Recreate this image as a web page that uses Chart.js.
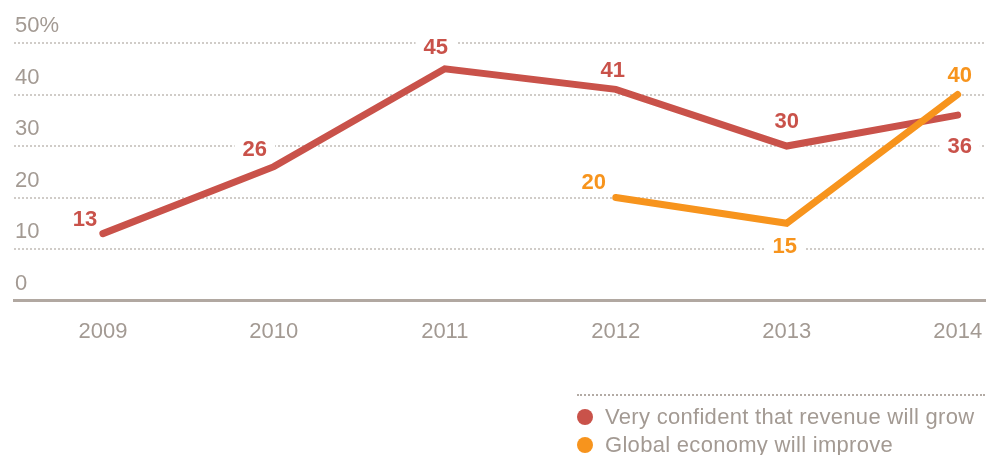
<!DOCTYPE html>
<html>
<head>
<meta charset="utf-8">
<script src="https://cdn.jsdelivr.net/npm/chart.js@4/dist/chart.umd.min.js"></script>
<style>
  html, body { margin: 0; padding: 0; background: #ffffff; }
  #wrap { position: relative; width: 986px; height: 455px; overflow: hidden; }
  #chart { position: absolute; left: 0; top: 0; }
  #legend {
    position: absolute; left: 577px; top: 394px; width: 408px;
    border-top: 2px dotted #b3aba5; padding-top: 7px;
    font-family: "Liberation Sans", Arial, Helvetica, sans-serif;
    font-size: 22px; line-height: 28px; color: #a39a93; letter-spacing: 0.3px;
  }
  #legend .item { display: flex; align-items: center; white-space: nowrap; }
  #legend .dot { width: 16px; height: 16px; border-radius: 50%; margin-right: 12px; flex: none; }
</style>
</head>
<body>
<div id="wrap">
  <canvas id="chart" width="986" height="455"></canvas>
  <div id="legend"></div>
</div>
<script>
// Survey years and the two series (percent of respondents)
const years = [2009, 2010, 2011, 2012, 2013, 2014];
const revenueConfident = [13, 26, 45, 41, 30, 36];
const economyImprove = [null, null, null, 20, 15, 40];
const yTicks = [0, 10, 20, 30, 40, 50];

const seriesNames = ['Very confident that revenue will grow', 'Global economy will improve'];
const RED = '#c9524a';
const ORANGE = '#f7941d';
const GREY_TEXT = '#a39a93';
const FONT = '"Liberation Sans", Arial, Helvetica, sans-serif';

// Where each value label sits relative to its point (pixels)
const labelShift = [
  [[-18, -15], [-19, -18], [-9, -22], [-3, -19], [0, -25], [2, 31]],
  [null, null, null, [-22, -16], [-2, 23], [2, -20]]
];

const valueLabels = {
  id: 'valueLabels',
  each(chart, cb) {
    const ctx = chart.ctx;
    ctx.save();
    ctx.font = 'bold 22px ' + FONT;
    chart.data.datasets.forEach((ds, di) => {
      const meta = chart.getDatasetMeta(di);
      meta.data.forEach((pt, i) => {
        const d = ds.data[i];
        const v = d && d.y;
        if (v === null || v === undefined) return;
        const s = labelShift[di][i] || [0, -20];
        cb(ctx, String(v), pt.x + s[0], pt.y + s[1], ds.borderColor);
      });
    });
    ctx.restore();
  },
  beforeDatasetsDraw(chart) {
    // white patches keep the gridlines from running through the labels
    this.each(chart, (ctx, txt, x, y) => {
      const w = ctx.measureText(txt).width + 16;
      ctx.fillStyle = '#ffffff';
      ctx.fillRect(x - w / 2, y - 10, w, 20);
    });
  },
  afterDatasetsDraw(chart) {
    this.each(chart, (ctx, txt, x, y, color) => {
      ctx.fillStyle = color;
      ctx.textAlign = 'center';
      ctx.textBaseline = 'middle';
      ctx.fillText(txt, x, y + 1);
    });
  }
};

const lineStyle = {
  borderWidth: 7,
  borderCapStyle: 'round',
  borderJoinStyle: 'miter',
  pointRadius: 0,
  pointHoverRadius: 0,
  tension: 0,
  fill: false,
  spanGaps: false
};

new Chart(document.getElementById('chart'), {
  type: 'line',
  data: {
    datasets: [
      Object.assign({
        label: seriesNames[0],
        data: years.map((y, i) => ({ x: y, y: revenueConfident[i] })),
        borderColor: RED, backgroundColor: RED, order: 2
      }, lineStyle),
      Object.assign({
        label: seriesNames[1],
        data: years.map((y, i) => ({ x: y, y: economyImprove[i] })),
        borderColor: ORANGE, backgroundColor: ORANGE, order: 1
      }, lineStyle)
    ]
  },
  options: {
    responsive: false,
    animation: false,
    events: [],
    parsing: { xAxisKey: 'x', yAxisKey: 'y' },
    layout: { padding: { left: 12, right: 1, top: 43, bottom: 92 } },
    plugins: { legend: { display: false }, tooltip: { enabled: false } },
    scales: {
      x: {
        type: 'linear',
        min: 2008.48,
        max: 2014.16,
        afterBuildTicks: (scale) => { scale.ticks = years.map(v => ({ value: v })); },
        afterFit: (scale) => { scale.paddingLeft = 0; scale.paddingRight = 0; },
        grid: { display: false, drawTicks: false },
        border: { display: true, color: '#b1a8a1', width: 3 },
        ticks: {
          padding: 18,
          color: GREY_TEXT,
          font: { family: FONT, size: 22 },
          callback: (v) => String(v)
        }
      },
      y: {
        min: 0,
        max: 50,
        afterBuildTicks: (scale) => { scale.ticks = yTicks.map(v => ({ value: v })); },
        grid: {
          drawTicks: false,
          lineWidth: 2,
          color: (c) => (c.tick && c.tick.value === 0) ? 'rgba(0,0,0,0)' : '#d0ccc8'
        },
        border: { display: false, dash: [2, 2] },
        ticks: {
          mirror: true,
          padding: 1,
          labelOffset: -17,
          color: GREY_TEXT,
          font: { family: FONT, size: 22 },
          callback: (v) => v === 50 ? '50%' : String(v)
        }
      }
    }
  },
  plugins: [valueLabels]
});

// Legend under the plot
const legend = document.getElementById('legend');
[[seriesNames[0], RED], [seriesNames[1], ORANGE]].forEach(([name, color]) => {
  const row = document.createElement('div');
  row.className = 'item';
  const dot = document.createElement('span');
  dot.className = 'dot';
  dot.style.background = color;
  const txt = document.createElement('span');
  txt.textContent = name;
  row.appendChild(dot);
  row.appendChild(txt);
  legend.appendChild(row);
});
</script>
</body>
</html>
